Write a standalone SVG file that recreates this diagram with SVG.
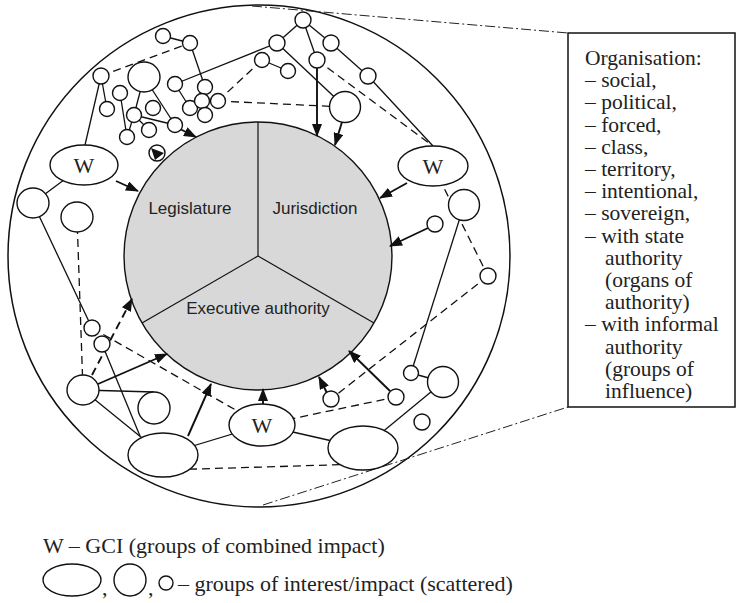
<svg xmlns="http://www.w3.org/2000/svg" width="737" height="603" viewBox="0 0 737 603">
  <defs>
    <style>
      .node { fill: #ffffff; stroke: #111111; stroke-width: 1.4; }
      .core { fill: #d8d8d8; stroke: #111111; stroke-width: 1.4; }
      .div { stroke: #111111; stroke-width: 1.2; fill: none; }
      .link { stroke: #111111; stroke-width: 1.3; fill: none; }
      .dash { stroke: #111111; stroke-width: 1.3; fill: none; stroke-dasharray: 8 5; }
      .arrow { stroke: #111111; stroke-width: 1.9; fill: none; marker-end: url(#head); }
      .arrow-dash { stroke: #111111; stroke-width: 1.9; fill: none; stroke-dasharray: 8 5; marker-end: url(#head); }
      .dashdot { stroke: #222222; stroke-width: 1; fill: none; stroke-dasharray: 10 3 2 3; }
      .sans { font-family: "Liberation Sans", Arial, sans-serif; font-size: 17px; fill: #222222; }
      .serif { font-family: "Liberation Serif", "Times New Roman", serif; font-size: 21.5px; fill: #222222; }
      .key { font-family: "Liberation Serif", "Times New Roman", serif; font-size: 22px; fill: #222222; }
      .w { font-family: "Liberation Serif", "Times New Roman", serif; font-size: 22px; fill: #222222; text-anchor: middle; }
    </style>
    <marker id="head" viewBox="0 0 13 10" refX="12" refY="5" markerWidth="13" markerHeight="10" markerUnits="userSpaceOnUse" orient="auto">
      <path d="M0,0 L13,5 L0,10 z" fill="#111111"/>
    </marker>
  </defs>

  <rect width="737" height="603" fill="#ffffff"/>

  <!-- society boundary -->
  <circle id="society" cx="259" cy="256" r="251" fill="none" stroke="#111111" stroke-width="1.5"/>

  <!-- state authority: three branches -->
  <g id="authority">
    <circle class="core" cx="258" cy="256" r="134"/>
    <line class="div" x1="258" y1="256" x2="258" y2="122"/>
    <line class="div" x1="258" y1="256" x2="142" y2="323"/>
    <line class="div" x1="258" y1="256" x2="374" y2="323"/>
    <text class="sans" x="190" y="214" text-anchor="middle">Legislature</text>
    <text class="sans" x="315" y="214" text-anchor="middle">Jurisdiction</text>
    <text class="sans" x="258" y="314" text-anchor="middle">Executive authority</text>
  </g>

  <!-- zoom-out guides to the organisation box -->
  <g id="guides">
    <line class="dashdot" x1="252" y1="6" x2="568" y2="33"/>
    <line class="dashdot" x1="263" y1="505" x2="568" y2="407"/>
  </g>

  <g id="connectors">
    <!-- solid ties -->
    <line class="link" x1="163" y1="36" x2="190" y2="43"/>
    <line class="link" x1="190" y1="43" x2="205" y2="87"/>
    <line class="link" x1="101" y1="76" x2="107" y2="109"/>
    <line class="link" x1="101" y1="76" x2="85" y2="145"/>
    <line class="link" x1="144" y1="77" x2="134" y2="115"/>
    <line class="link" x1="144" y1="77" x2="175" y2="125"/>
    <line class="link" x1="175" y1="84" x2="190" y2="108"/>
    <line class="link" x1="175" y1="84" x2="277" y2="43"/>
    <line class="link" x1="120" y1="93" x2="127" y2="137"/>
    <line class="link" x1="134" y1="115" x2="127" y2="137"/>
    <line class="link" x1="134" y1="115" x2="149" y2="130"/>
    <line class="link" x1="134" y1="115" x2="175" y2="125"/>
    <line class="link" x1="303" y1="20" x2="277" y2="43"/>
    <line class="link" x1="303" y1="20" x2="317" y2="60"/>
    <line class="link" x1="303" y1="20" x2="331" y2="43"/>
    <line class="link" x1="262" y1="60" x2="288" y2="71"/>
    <line class="link" x1="277" y1="43" x2="345" y2="107"/>
    <line class="link" x1="331" y1="43" x2="368" y2="76"/>
    <line class="link" x1="368" y1="76" x2="433" y2="146"/>
    <line class="link" x1="464" y1="205" x2="411" y2="373"/>
    <line class="link" x1="411" y1="373" x2="443" y2="382"/>
    <line class="link" x1="363" y1="448" x2="443" y2="382"/>
    <line class="link" x1="262" y1="425" x2="363" y2="448"/>
    <line class="link" x1="163" y1="455" x2="262" y2="425"/>
    <line class="link" x1="163" y1="455" x2="83" y2="390"/>
    <line class="link" x1="102" y1="344" x2="140" y2="436"/>
    <line class="link" x1="83" y1="390" x2="154" y2="392"/>
    <line class="link" x1="33" y1="203" x2="92" y2="328"/>
    <line class="link" x1="84" y1="165" x2="33" y2="203"/>

    <!-- dashed ties -->
    <line class="dash" x1="101" y1="76" x2="190" y2="43"/>
    <line class="dash" x1="218" y1="101" x2="262" y2="60"/>
    <line class="dash" x1="218" y1="101" x2="345" y2="107"/>
    <line class="dash" x1="317" y1="60" x2="433" y2="146"/>
    <line class="dash" x1="433" y1="166" x2="488" y2="276"/>
    <line class="dash" x1="488" y1="276" x2="331" y2="399"/>
    <line class="dash" x1="262" y1="425" x2="396" y2="397"/>
    <line class="dash" x1="163" y1="470" x2="363" y2="464"/>
    <line class="dash" x1="92" y1="328" x2="262" y2="425"/>
    <line class="dash" x1="83" y1="390" x2="77" y2="217"/>

    <!-- influence on the branches of authority -->
    <line class="arrow" x1="116" y1="181" x2="138" y2="191"/>
    <line class="arrow" x1="180" y1="129" x2="196" y2="137"/>
    <line class="arrow" x1="317" y1="68" x2="317" y2="136"/>
    <line class="arrow" x1="342" y1="122" x2="335" y2="145"/>
    <line class="arrow" x1="407" y1="183" x2="380" y2="198"/>
    <line class="arrow" x1="428" y1="228" x2="390" y2="246"/>
    <line class="arrow" x1="390" y1="391" x2="349" y2="351"/>
    <line class="arrow" x1="327" y1="393" x2="319" y2="377"/>
    <line class="arrow" x1="263" y1="404" x2="263" y2="389"/>
    <line class="arrow" x1="188" y1="436" x2="211" y2="384"/>
    <line class="arrow" x1="98" y1="384" x2="167" y2="354"/>
    <line class="arrow-dash" x1="92" y1="375" x2="132" y2="299"/>
  </g>

  <!-- groups of interest / impact -->
  <g id="n-a"><circle class="node" cx="163" cy="36" r="7.5"/></g>
  <g id="n-b"><circle class="node" cx="190" cy="43" r="7.5"/></g>
  <g id="n-c"><circle class="node" cx="205" cy="87" r="7.5"/></g>
  <g id="n-d"><circle class="node" cx="101" cy="76" r="8"/></g>
  <g id="n-e"><ellipse class="node" cx="144" cy="77" rx="16" ry="15"/></g>
  <g id="n-f"><circle class="node" cx="175" cy="84" r="7.5"/></g>
  <g id="n-g"><circle class="node" cx="120" cy="93" r="7.5"/></g>
  <g id="n-h"><circle class="node" cx="107" cy="109" r="7.5"/></g>
  <g id="n-i"><circle class="node" cx="134" cy="115" r="7.5"/></g>
  <g id="n-j"><circle class="node" cx="153" cy="108" r="7.5"/></g>
  <g id="n-k"><circle class="node" cx="149" cy="130" r="7.5"/></g>
  <g id="n-l"><circle class="node" cx="127" cy="137" r="7.5"/></g>
  <g id="n-m"><circle class="node" cx="175" cy="125" r="7.5"/></g>
  <g id="n-n"><circle class="node" cx="190" cy="108" r="7.5"/></g>
  <g id="n-o"><circle class="node" cx="202" cy="101" r="7.5"/></g>
  <g id="n-p"><circle class="node" cx="205" cy="115" r="7.5"/></g>
  <g id="n-q"><circle class="node" cx="218" cy="101" r="7.5"/></g>
  <g id="n-mark">
    <circle class="node" cx="157" cy="153" r="8"/>
    <polygon points="151,148 164,153 155,160" fill="#111111"/>
  </g>

  <g id="n-r"><circle class="node" cx="303" cy="20" r="8"/></g>
  <g id="n-s"><circle class="node" cx="277" cy="43" r="8"/></g>
  <g id="n-t"><circle class="node" cx="262" cy="60" r="7.5"/></g>
  <g id="n-u"><circle class="node" cx="288" cy="71" r="7.5"/></g>
  <g id="n-v"><circle class="node" cx="317" cy="60" r="8"/></g>
  <g id="n-x"><circle class="node" cx="331" cy="43" r="8"/></g>
  <g id="n-y"><circle class="node" cx="368" cy="76" r="8"/></g>
  <g id="n-z"><circle class="node" cx="345" cy="107" r="15.5"/></g>

  <g id="n-aa"><circle class="node" cx="464" cy="205" r="15.5"/></g>
  <g id="n-ab"><circle class="node" cx="435" cy="224" r="8"/></g>
  <g id="n-ac"><circle class="node" cx="488" cy="276" r="8"/></g>
  <g id="n-ba"><circle class="node" cx="331" cy="399" r="8"/></g>
  <g id="n-bb"><circle class="node" cx="396" cy="397" r="8"/></g>
  <g id="n-bc"><circle class="node" cx="411" cy="373" r="7.5"/></g>
  <g id="n-bd"><circle class="node" cx="443" cy="382" r="15.5"/></g>
  <g id="n-be"><circle class="node" cx="422" cy="422" r="8"/></g>
  <g id="n-bf"><ellipse class="node" cx="363" cy="448" rx="35" ry="22"/></g>

  <g id="n-bl"><ellipse class="node" cx="163" cy="455" rx="35" ry="22"/></g>
  <g id="n-ca"><circle class="node" cx="154" cy="408" r="16"/></g>
  <g id="n-lc"><ellipse class="node" cx="83" cy="390" rx="16" ry="15"/></g>
  <g id="n-cb"><circle class="node" cx="92" cy="328" r="8"/></g>
  <g id="n-cc"><circle class="node" cx="102" cy="344" r="8"/></g>
  <g id="n-cd"><ellipse class="node" cx="33" cy="203" rx="16" ry="15"/></g>
  <g id="n-ce"><ellipse class="node" cx="77" cy="217" rx="16" ry="15"/></g>

  <!-- groups of combined impact -->
  <g id="w-left">
    <ellipse class="node" cx="84" cy="165" rx="34" ry="20"/>
    <text class="w" x="84" y="173">W</text>
  </g>
  <g id="w-right">
    <ellipse class="node" cx="433" cy="166" rx="35" ry="20"/>
    <text class="w" x="433" y="174">W</text>
  </g>
  <g id="w-bottom">
    <ellipse class="node" cx="262" cy="425" rx="33" ry="21"/>
    <text class="w" x="262" y="433">W</text>
  </g>

  <!-- organisation types -->
  <g id="organisation-box">
    <rect x="568" y="33" width="167" height="374" fill="#ffffff" stroke="#111111" stroke-width="1.5"/>
    <text class="serif">
      <tspan x="585" y="65">Organisation:</tspan>
      <tspan x="585" y="87.2">– social,</tspan>
      <tspan x="585" y="109.4">– political,</tspan>
      <tspan x="585" y="131.6">– forced,</tspan>
      <tspan x="585" y="153.8">– class,</tspan>
      <tspan x="585" y="176">– territory,</tspan>
      <tspan x="585" y="198.2">– intentional,</tspan>
      <tspan x="585" y="220.4">– sovereign,</tspan>
      <tspan x="585" y="242.6">– with state</tspan>
      <tspan x="605" y="264.8">authority</tspan>
      <tspan x="605" y="287">(organs of</tspan>
      <tspan x="605" y="309.2">authority)</tspan>
      <tspan x="585" y="331.4">– with informal</tspan>
      <tspan x="605" y="353.6">authority</tspan>
      <tspan x="605" y="375.8">(groups of</tspan>
      <tspan x="605" y="398">influence)</tspan>
    </text>
  </g>

  <!-- key -->
  <g id="legend">
    <text class="key" x="43" y="553">W – GCI (groups of combined impact)</text>
    <ellipse class="node" cx="72" cy="580" rx="29" ry="16"/>
    <text class="key" x="102" y="595">,</text>
    <circle class="node" cx="130" cy="580" r="16"/>
    <text class="key" x="148" y="595">,</text>
    <circle class="node" cx="166" cy="583" r="7"/>
    <text class="key" x="178" y="591">– groups of interest/impact (scattered)</text>
  </g>
</svg>
